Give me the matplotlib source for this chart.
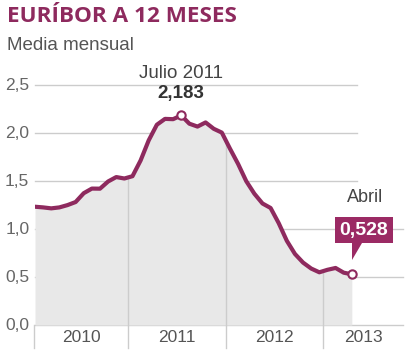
import matplotlib
matplotlib.use("Agg")
import matplotlib.pyplot as plt
from matplotlib.patches import Polygon
import numpy as np

# Euríbor a 12 meses, media mensual (ene 2010 - abr 2013)
valores = [
    1.232, 1.225, 1.215, 1.225, 1.249, 1.281, 1.373, 1.421, 1.420, 1.495, 1.541, 1.526,
    1.550, 1.714, 1.924, 2.086, 2.147, 2.144, 2.183, 2.097, 2.067, 2.110, 2.044, 2.004,
    1.837, 1.678, 1.499, 1.368, 1.266, 1.219, 1.061, 0.877, 0.740, 0.650, 0.588, 0.549,
    0.575, 0.594, 0.545, 0.528,
]
anios = ["2010", "2011", "2012", "2013"]
y_ticks = [0.0, 0.5, 1.0, 1.5, 2.0, 2.5]
y_labels = ["0,0", "0,5", "1,0", "1,5", "2,0", "2,5"]

PURPLE = "#8e2a5e"
BOX = "#9b2a64"
GRAY_TXT = "#555555"
GRID = "#cccccc"
FILL = "#e8e8e8"

W, H = 414, 359
fig = plt.figure(figsize=(W / 100, H / 100), dpi=100)
plt.rcParams["font.family"] = ["Liberation Sans", "DejaVu Sans"]

# ejes: x=35..403 px, y=325..85 px
ax = fig.add_axes([35 / W, 34 / H, 368 / W, 240 / H])
xmax = 45.3
ax.set_xlim(0, xmax)
ax.set_ylim(0, 2.5)
ax.axis("off")

t = np.arange(len(valores))
v = np.array(valores)

ax.fill_between(t, 0, v, color=FILL, lw=0, zorder=1)

# líneas horizontales
for yv, lab in zip(y_ticks, y_labels):
    x_end = 39.6 if yv >= 1.5 else xmax
    ax.plot([0, x_end], [yv, yv], color=GRID, lw=1, zorder=0.5, clip_on=False)
    ax.text(-0.7, yv, lab, ha="right", va="center", fontsize=12.5, color="#666666")

# separadores de año
seps = [-0.1, 11.5, 23.5, 35.5]
for s in seps:
    top = np.interp(s, t, v) if s > 0 else 0
    ax.plot([s, s], [-0.24, top], color=GRID, lw=1, zorder=1.5, clip_on=False)
bounds = seps + [xmax]
for i, a in enumerate(anios):
    ax.text((bounds[i] + bounds[i + 1]) / 2, -0.13, a, ha="center", va="center",
            fontsize=12.5, color="#555555")

ax.plot(t, v, color=PURPLE, lw=3, zorder=3, solid_capstyle="round",
        solid_joinstyle="round")

# marcadores
ax.plot([18], [valores[18]], marker="o", ms=6, mfc="white", mec=PURPLE, mew=1.5, zorder=4)
ax.plot([39], [valores[39]], marker="o", ms=6, mfc="white", mec=PURPLE, mew=1.5, zorder=4)

ax.text(18, 2.62, "Julio 2011", ha="center", va="center", fontsize=13.5, color="#444444",
        clip_on=False)
ax.text(18, 2.41, "2,183", ha="center", va="center", fontsize=13.5, color="#333333",
        fontweight="bold", clip_on=False)

# etiqueta abril 2013
ax.text(40.6, 1.33, "Abril", ha="center", va="center", fontsize=13, color="#444444")
fx = lambda px: (px - 35) / 368 * xmax
fy = lambda py: (325 - py) / 96
box = Polygon([(fx(335), fy(217)), (fx(393), fy(217)), (fx(393), fy(243)),
               (fx(362), fy(243)), (fx(352), fy(260)), (fx(352), fy(243)),
               (fx(335), fy(243))], closed=True, facecolor=BOX, edgecolor="none",
              zorder=5, clip_on=False)
ax.add_patch(box)
ax.text(fx(364), fy(230), "0,528", ha="center", va="center", fontsize=14,
        color="white", fontweight="bold", zorder=6)

fig.text(7 / W, 1 - 17 / H, "EURÍBOR A 12 MESES", ha="left", va="center",
         fontsize=16.2, fontweight="bold", color=PURPLE, family=["Open Sans", "DejaVu Sans"])
fig.text(7 / W, 1 - 45 / H, "Media mensual", ha="left", va="center",
         fontsize=13.5, color=GRAY_TXT)

fig.savefig("out.png", dpi=100)
